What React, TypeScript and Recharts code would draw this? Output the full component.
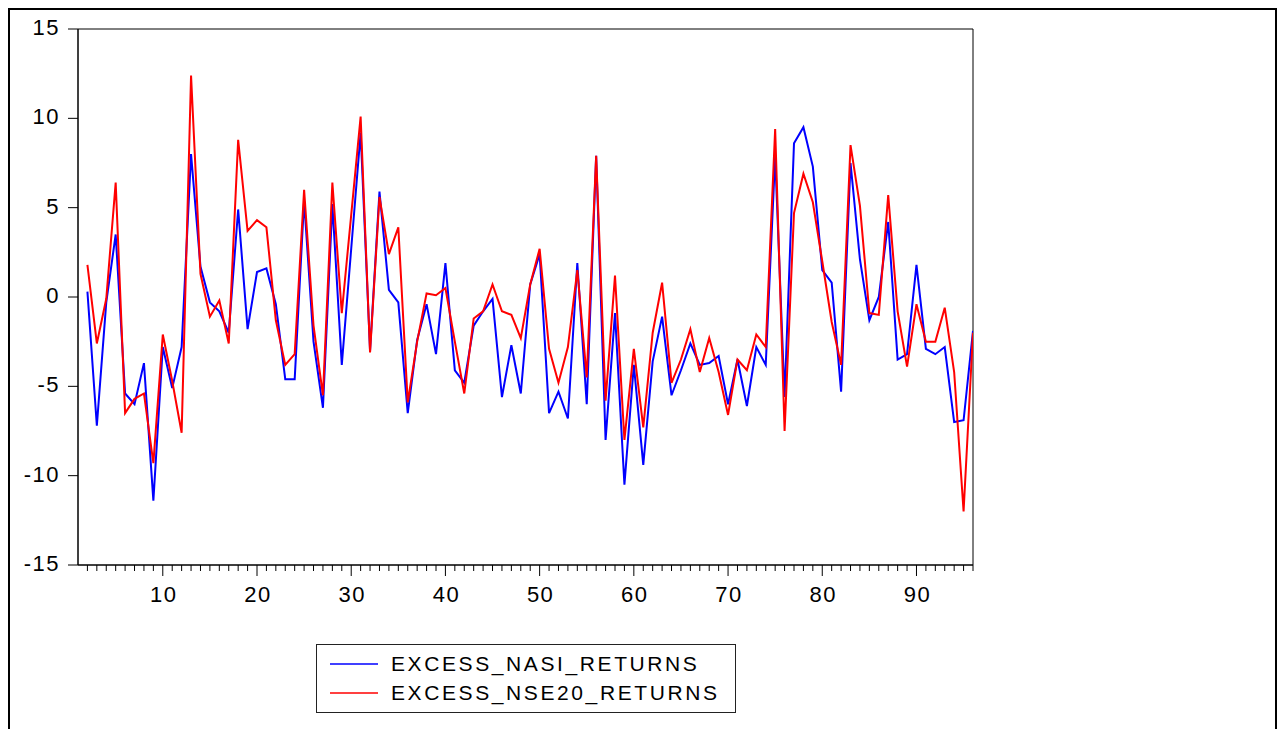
import React from "react";
import { LineChart, Line, XAxis, YAxis, ReferenceArea } from "recharts";

const seriesNames = ["EXCESS_NASI_RETURNS", "EXCESS_NSE20_RETURNS"];
const seriesColors = ["#0000FF", "#FF0000"];

// observations 2..96
const firstObs = 2;
const nasi = [
  0.3, -7.2, -0.3, 3.5, -5.4, -6.0, -3.7, -11.4, -2.8, -5.1,
  -2.8, 8.0, 1.7, -0.3, -0.8, -2.0, 4.9, -1.8, 1.4, 1.6,
  -0.4, -4.6, -4.6, 5.4, -2.5, -6.2, 5.2, -3.8, 2.7, 9.2,
  -3.0, 5.9, 0.4, -0.3, -6.5, -2.4, -0.4, -3.2, 1.9, -4.1,
  -4.8, -1.6, -0.8, -0.1, -5.6, -2.7, -5.4, 0.7, 2.4, -6.5,
  -5.3, -6.8, 1.9, -6.0, 7.9, -8.0, -0.9, -10.5, -3.8, -9.4,
  -3.6, -1.1, -5.5, -4.1, -2.6, -3.8, -3.7, -3.3, -6.0, -3.5,
  -6.1, -2.8, -3.8, 7.9, -5.6, 8.6, 9.5, 7.3, 1.5, 0.8,
  -5.3, 7.5, 2.1, -1.3, 0.0, 4.2, -3.5, -3.2, 1.8, -2.9,
  -3.2, -2.8, -7.0, -6.9, -1.9,
];
const nse20 = [
  1.8, -2.6, -0.1, 6.4, -6.5, -5.7, -5.4, -9.3, -2.1, -4.7,
  -7.6, 12.4, 1.3, -1.1, -0.2, -2.6, 8.8, 3.7, 4.3, 3.9,
  -1.3, -3.8, -3.2, 6.0, -1.6, -5.5, 6.4, -0.9, 4.6, 10.1,
  -3.1, 5.6, 2.4, 3.9, -5.9, -2.5, 0.2, 0.1, 0.5, -2.5,
  -5.4, -1.2, -0.8, 0.7, -0.8, -1.0, -2.3, 0.7, 2.7, -2.9,
  -4.8, -2.8, 1.5, -4.5, 7.9, -5.8, 1.2, -8.0, -2.9, -7.3,
  -2.0, 0.8, -4.8, -3.5, -1.8, -4.2, -2.3, -4.2, -6.6, -3.5,
  -4.1, -2.1, -2.8, 9.4, -7.5, 4.7, 6.9, 5.3, 2.0, -1.4,
  -3.8, 8.5, 5.1, -0.9, -1.0, 5.7, -0.8, -3.9, -0.4, -2.5,
  -2.5, -0.6, -4.2, -12.0, -2.0,
];

const xDomain = [1, 96];
const yDomain = [-15, 15];
const yTicks = [-15, -10, -5, 0, 5, 10, 15];
const xMajorTicks = [10, 20, 30, 40, 50, 60, 70, 80, 90];

const data = nasi.map((v, i) => ({ obs: firstObs + i, nasi: v, nse20: nse20[i] }));
const xTicks = data.map((d) => d.obs);

const FONT = "'Liberation Sans', Arial, Helvetica, sans-serif";

const XTick = (props: any) => {
  const { x, y, payload } = props;
  const major = xMajorTicks.includes(payload.value);
  return (
    <g>
      <line x1={x} x2={x} y1={y} y2={y + (major ? 11 : 6)} stroke="#000" strokeWidth={1} />
      {major && (
        <text
          x={x + 1}
          y={y + 37}
          textAnchor="middle"
          fontSize={22}
          fontFamily={FONT}
          letterSpacing={1.5}
          fill="#000"
        >
          {payload.value}
        </text>
      )}
    </g>
  );
};

const YTick = (props: any) => {
  const { x, y, payload } = props;
  return (
    <text
      x={x}
      y={y + 6}
      textAnchor="end"
      fontSize={22}
      fontFamily={FONT}
      letterSpacing={1.5}
      fill="#000"
    >
      {payload.value}
    </text>
  );
};

export default function App() {
  return (
    <div
      style={{
        position: "absolute",
        left: 0,
        top: 0,
        width: 1277,
        height: 729,
        overflow: "hidden",
        background: "#fff",
      }}
    >
      <div
        style={{
          position: "absolute",
          left: 8,
          top: 8,
          width: 1269,
          height: 800,
          border: "2px solid #000",
          boxSizing: "border-box",
        }}
      />
      <div style={{ position: "absolute", left: 0, top: 0 }}>
        <LineChart
          width={1277}
          height={729}
          data={data}
          margin={{ top: 29, right: 304, bottom: 114, left: 0 }}
        >
          <XAxis
            dataKey="obs"
            type="number"
            domain={xDomain}
            ticks={xTicks}
            interval={0}
            tick={<XTick />}
            tickLine={false}
            tickSize={0}
            tickMargin={0}
            axisLine={{ stroke: "#000", strokeWidth: 1 }}
            height={50}
            allowDataOverflow
          />
          <YAxis
            type="number"
            domain={yDomain}
            ticks={yTicks}
            interval={0}
            tick={<YTick />}
            tickLine={{ stroke: "#000" }}
            tickSize={10}
            tickMargin={8}
            axisLine={{ stroke: "#000", strokeWidth: 1 }}
            width={78}
            allowDataOverflow
          />
          <ReferenceArea
            x1={xDomain[0]}
            x2={xDomain[1]}
            y1={yDomain[0]}
            y2={yDomain[1]}
            fill="none"
            fillOpacity={0}
            stroke="#000"
            strokeWidth={1}
            ifOverflow="visible"
          />
          <Line
            dataKey="nasi"
            name={seriesNames[0]}
            stroke={seriesColors[0]}
            strokeWidth={2}
            dot={false}
            type="linear"
            isAnimationActive={false}
          />
          <Line
            dataKey="nse20"
            name={seriesNames[1]}
            stroke={seriesColors[1]}
            strokeWidth={2}
            dot={false}
            type="linear"
            isAnimationActive={false}
          />
        </LineChart>
      </div>
      <div
        style={{
          position: "absolute",
          left: 316,
          top: 644,
          width: 420,
          height: 69,
          border: "1px solid #222",
          boxSizing: "border-box",
          background: "#fff",
        }}
      >
        <svg width={418} height={67} style={{ display: "block" }}>
          {seriesNames.map((name, i) => (
            <g key={name}>
              <line
                x1={13}
                x2={61}
                y1={19 + i * 29}
                y2={19 + i * 29}
                stroke={seriesColors[i]}
                strokeWidth={1.5}
              />
              <text
                x={74}
                y={26 + i * 29}
                fontSize={21}
                fontFamily={FONT}
                letterSpacing={2.6}
                fill="#000"
              >
                {name}
              </text>
            </g>
          ))}
        </svg>
      </div>
    </div>
  );
}
